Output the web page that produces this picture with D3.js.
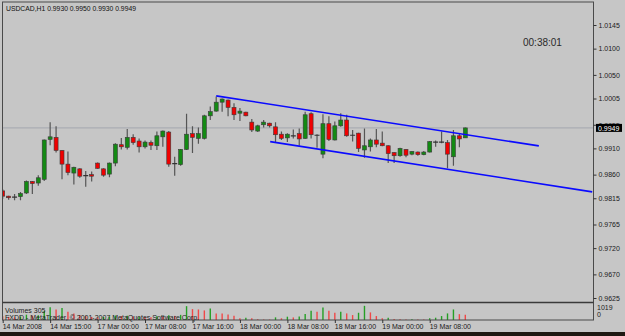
<!DOCTYPE html>
<html>
<head>
<meta charset="utf-8">
<script src="https://cdn.jsdelivr.net/npm/d3@7"></script>
<style>
  body { margin: 0; background: #c6c6c6; }
  svg { display: block; font-family: "Liberation Sans", Arial, sans-serif; }
</style>
</head>
<body>
<svg id="chart" width="625" height="336"></svg>
<script>
// USDCAD H1 candles
const opens = [.9829,.9819,.9818,.9818,.9825,.9847,.9844,.9851,.9927,.9931,
  .9906,.9880,.9863,.9871,.9859,.9860,.9882,.9871,.9861,.9882,
  .9917,.9912,.9931,.9924,.9913,.9921,.9915,.9932,.9941,.9880,
  .9879,.9908,.9938,.9929,.9929,.9972,.9981,.9998,1.0002,.9988,
  .9977,.9979,.9960,.9943,.9955,.9958,.9951,.9937,.9930,.9935,
  .9938,.9929,.9976,.9936,.9899,.9957,.9926,.9953,.9964,.9936,
  .9939,.9907,.9913,.9926,.9920,.9915,.9902,.9896,.9908,.9899,
  .9903,.9898,.9903,.9921,.9921,.9921,.9894,.9934,.9930];
const highs = [.9832,.9820,.9823,.9827,.9849,.9848,.9859,.9927,.9960,.9952,
  .9907,.9904,.9875,.9872,.9867,.9866,.9883,.9872,.9883,.9920,
  .9930,.9947,.9937,.9929,.9925,.9925,.9942,.9944,.9943,.9894,
  .9909,.9976,.9952,.9950,.9974,.9990,1.0009,1.0005,1.0003,.9996,
  .9987,.9980,.9966,.9955,.9964,.9959,.9960,.9942,.9939,.9946,
  .9948,.9980,.9979,.9937,.9975,.9971,.9961,.9977,.9974,.9945,
  .9940,.9948,.9929,.9947,.9942,.9916,.9903,.9911,.9909,.9905,
  .9904,.9905,.9924,.9925,.9942,.9926,.9945,.9939,.9950];
const lows = [.9814,.9812,.9811,.9811,.9823,.9823,.9839,.9848,.9916,.9902,
  .9851,.9859,.9841,.9854,.9837,.9847,.9871,.9856,.9855,.9876,
  .9908,.9908,.9917,.9902,.9910,.9907,.9907,.9913,.9875,.9858,
  .9877,.9907,.9901,.9919,.9927,.9964,.9980,.9980,.9971,.9964,
  .9962,.9971,.9941,.9941,.9950,.9950,.9922,.9926,.9922,.9929,
  .9915,.9928,.9929,.9911,.9891,.9924,.9925,.9951,.9932,.9923,
  .9903,.9892,.9904,.9912,.9914,.9882,.9882,.9894,.9893,.9897,
  .9896,.9897,.9902,.9913,.9920,.9872,.9877,.9912,.9930];
const closes = [.9819,.9816,.9817,.9824,.9847,.9843,.9854,.9926,.9932,.9906,
  .9880,.9864,.9874,.9857,.9858,.9857,.9872,.9859,.9882,.9918,
  .9913,.9931,.9921,.9913,.9922,.9916,.9934,.9943,.9880,.9881,
  .9908,.9937,.9931,.9938,.9972,.9980,.9998,1.0004,.9988,.9974,
  .9981,.9972,.9945,.9953,.9960,.9953,.9936,.9929,.9937,.9934,
  .9928,.9974,.9936,.9935,.9957,.9927,.9953,.9964,.9934,.9935,
  .9910,.9915,.9926,.9918,.9915,.9900,.9896,.9910,.9897,.9904,
  .9898,.9903,.9923,.9922,.9922,.9899,.9934,.9928,.9949];
const volumes = [220,180,150,200,310,260,280,520,749,614,
  700,480,384,288,240,180,150,170,200,260,
  230,250,200,210,180,160,220,200,280,240,
  300,806,634,614,557,672,384,380,326,250,
  100,134,100,40,30,25,154,100,192,150,
  210,350,537,480,730,537,422,480,384,288,
  422,825,442,230,96,134,58,50,35,40,
  30,25,96,134,230,384,614,340,305];

const priceTicks = [1.0145, 1.0100, 1.0050, 1.0005, 0.9955, 0.9910, 0.9860, 0.9815, 0.9765, 0.9720, 0.9670, 0.9625];
const timeLabels = ["14 Mar 2008", "14 Mar 15:00", "17 Mar 00:00", "17 Mar 08:00", "17 Mar 16:00",
  "18 Mar 00:00", "18 Mar 08:00", "18 Mar 16:00", "19 Mar 00:00", "19 Mar 08:00"];
const timeLabelBars = [0, 8, 16, 24, 32, 40, 48, 56, 64, 72];

// trend channel drawn by hand: [bar index, price]
const channelTop = [[36, 1.0010], [90.4, 0.99147]];
const channelBottom = [[45.1, 0.99229], [99.4, 0.98271]];

const lastPrice = 0.9949;
const volMax = 1019;

let svg = d3.select("svg#chart");
const frame = { left: 2.5, right: 593.5, top: 2, mainBottom: 302, volBottom: 320 };

const bars = opens.map((o, i) => ({ i, o, h: highs[i], l: lows[i], c: closes[i], v: volumes[i] }));

let xScale = d3.scaleLinear().domain([0, 78]).range([2.7, 465.3]);
let yScale = d3.scaleLinear().domain([0.9625, 1.0145]).range([298, 25]);
let vScale = d3.scaleLinear().domain([0, volMax]).range([frame.volBottom, frame.volBottom - 17.5]);

svg.append("rect").attr("width", 625).attr("height", 336).attr("fill", "#c6c6c6");
// dark strip at the very bottom of the window
svg.append("rect").attr("x", 0).attr("y", 332).attr("width", 625).attr("height", 4).attr("fill", "#1e1812");

let defs = svg.append("defs");
defs.append("clipPath").attr("id", "mainClip")
  .append("rect")
  .attr("x", frame.left + 0.5).attr("y", frame.top + 0.5)
  .attr("width", frame.right - frame.left - 1).attr("height", frame.mainBottom - frame.top - 1);
defs.append("clipPath").attr("id", "volClip")
  .append("rect")
  .attr("x", frame.left + 0.5).attr("y", frame.mainBottom + 1)
  .attr("width", frame.right - frame.left - 1).attr("height", frame.volBottom - frame.mainBottom - 1);

// current price line
svg.append("line")
  .attr("x1", frame.left).attr("x2", frame.right)
  .attr("y1", yScale(lastPrice)).attr("y2", yScale(lastPrice))
  .attr("stroke", "#a4a6ae").attr("stroke-width", 1);

// candles
let main = svg.append("g").attr("clip-path", "url(#mainClip)");
let candles = main.selectAll("g.candle").data(bars).join("g").attr("class", "candle");
candles.append("line")
  .attr("x1", (d) => xScale(d.i)).attr("x2", (d) => xScale(d.i))
  .attr("y1", (d) => yScale(d.h)).attr("y2", (d) => yScale(d.l))
  .attr("stroke", "#555").attr("stroke-width", 1.2);
candles.filter((d) => Math.abs(d.o - d.c) > 0.00011)
  .append("rect")
  .attr("x", (d) => xScale(d.i) - 2)
  .attr("width", 4)
  .attr("y", (d) => yScale(Math.max(d.o, d.c)))
  .attr("height", (d) => Math.abs(yScale(d.o) - yScale(d.c)))
  .attr("fill", (d) => (d.c > d.o ? "#138a13" : "#f00000"))
  .attr("stroke", "#3a3a3a")
  .attr("stroke-width", 0.6);
candles.filter((d) => Math.abs(d.o - d.c) <= 0.00011)
  .append("line")
  .attr("x1", (d) => xScale(d.i) - 2.5).attr("x2", (d) => xScale(d.i) + 2.5)
  .attr("y1", (d) => yScale(d.c)).attr("y2", (d) => yScale(d.c))
  .attr("stroke", "#333").attr("stroke-width", 1.2);

// channel
const line = d3.line().x((d) => xScale(d[0])).y((d) => yScale(d[1]));
[channelTop, channelBottom].forEach((pts) => {
  main.append("path")
    .attr("d", line(pts))
    .attr("fill", "none")
    .attr("stroke", "#0a0aff")
    .attr("stroke-width", 1.6);
});

// volumes: green if above previous bar, red otherwise
let vol = svg.append("g").attr("clip-path", "url(#volClip)");
vol.selectAll("line.vol").data(bars).join("line")
  .attr("class", "vol")
  .attr("x1", (d) => xScale(d.i)).attr("x2", (d) => xScale(d.i))
  .attr("y1", vScale(0)).attr("y2", (d) => vScale(d.v))
  .attr("stroke", (d) => (d.i > 0 && d.v > volumes[d.i - 1] ? "#24a024" : "#f04848"))
  .attr("stroke-width", 1.4);

// frames
svg.append("rect")
  .attr("x", frame.left).attr("y", frame.top)
  .attr("width", frame.right - frame.left).attr("height", frame.volBottom - frame.top)
  .attr("fill", "none").attr("stroke", "#4a4a4a").attr("stroke-width", 1);
svg.append("line")
  .attr("x1", frame.left).attr("x2", frame.right)
  .attr("y1", frame.mainBottom + 0.5).attr("y2", frame.mainBottom + 0.5)
  .attr("stroke", "#3a3a3a").attr("stroke-width", 1.6);

// price axis
let yAxis = d3.axisRight(yScale).tickValues(priceTicks).tickSize(3).tickPadding(2)
  .tickFormat(d3.format(".4f"));
svg.append("g")
  .attr("transform", `translate(${frame.right},0)`)
  .call(yAxis)
  .call((g) => g.select(".domain").remove())
  .call((g) => g.selectAll("line").attr("stroke", "#333"))
  .call((g) => g.selectAll("text").attr("fill", "#1a1a1a").style("font-size", "7px")
    .style("font-family", "Liberation Sans, Arial, sans-serif"));

// last price tag
let tag = svg.append("g").attr("transform", `translate(596,${yScale(lastPrice)})`);
tag.append("rect").attr("x", 0).attr("y", -4).attr("width", 26).attr("height", 8).attr("fill", "#000");
tag.append("text").attr("x", 2).attr("y", 2.6).text(d3.format(".4f")(lastPrice))
  .attr("fill", "#fff").style("font-size", "7px");

// time axis
let timeAxis = d3.axisBottom(xScale)
  .tickValues(timeLabelBars)
  .tickSize(3)
  .tickFormat((d, i) => timeLabels[i]);
svg.append("g")
  .attr("transform", `translate(0,${frame.volBottom})`)
  .call(timeAxis)
  .call((g) => g.select(".domain").remove())
  .call((g) => g.selectAll("line").attr("stroke", "#333"))
  .call((g) => g.selectAll("text")
    .attr("text-anchor", "start").attr("dx", -0.5).attr("y", 4.5)
    .attr("fill", "#1a1a1a").style("font-size", "7px")
    .style("font-family", "Liberation Sans, Arial, sans-serif"));

// texts
svg.append("text").attr("x", 6).attr("y", 11)
  .text("USDCAD,H1  0.9930 0.9950 0.9930 0.9949")
  .style("font-size", "6.8px").attr("fill", "#111");
svg.append("text").attr("x", 523).attr("y", 46)
  .text("00:38:01")
  .style("font-size", "10px").attr("fill", "#2a2a2a");
svg.append("text").attr("x", 5).attr("y", 313)
  .text("Volumes " + volumes[volumes.length - 1])
  .style("font-size", "7px").attr("fill", "#222");
svg.append("text").attr("x", 5).attr("y", 320)
  .text("FXDD - MetaTrader, © 2001-2007 MetaQuotes Software Corp.")
  .style("font-size", "7px").attr("fill", "#222");
svg.append("text").attr("x", 597).attr("y", 310)
  .text(volMax).style("font-size", "7px").attr("fill", "#222");
svg.append("text").attr("x", 597).attr("y", 317)
  .text("0").style("font-size", "7px").attr("fill", "#222");
</script>
</body>
</html>
